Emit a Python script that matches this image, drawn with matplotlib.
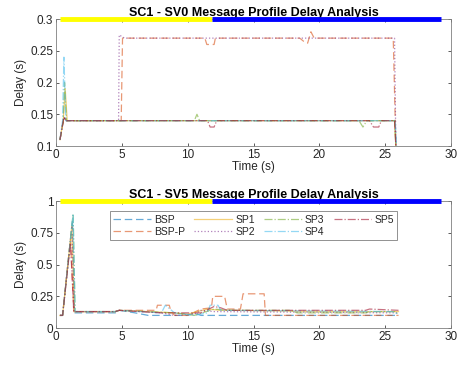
import matplotlib
matplotlib.use('Agg')
import matplotlib.pyplot as plt

plt.rcParams['font.family'] = ['Liberation Sans', 'DejaVu Sans']

names  = ['BSP', 'BSP-P', 'SP1', 'SP2', 'SP3', 'SP4', 'SP5']
colors = ['#0072BD', '#D95319', '#EDB120', '#7E2F8E', '#77AC30', '#4DBEEE', '#A2142F']
styles = [(0, (6, 3)), (0, (6, 3)), '-', ':', '-.', '-.', '-.']

# phase bar (yellow then blue) along the top of each axes
phase_t = [0.3, 11.85, 29.2]

# --- SC1 - SV0 ---
sv0_t = {
    'BSP':   [0.3, 0.6, 0.8, 25.75, 25.8],
    'BSP-P': [0.3, 0.6, 0.8, 4.95, 5.05, 11.3, 11.45, 12.0, 12.1, 18.5, 18.8, 19.1, 19.35, 19.6, 25.6, 25.8],
    'SP1':   [0.3, 0.55, 0.7, 0.85, 25.7, 25.8],
    'SP2':   [0.3, 0.6, 0.8, 4.75, 4.8, 5.2, 25.7, 25.8],
    'SP3':   [0.3, 0.55, 0.65, 0.8, 10.5, 10.7, 10.9, 23.0, 23.3, 23.6, 25.7, 25.8],
    'SP4':   [0.3, 0.5, 0.6, 0.75, 25.75, 25.85],
    'SP5':   [0.3, 0.6, 0.8, 11.5, 11.7, 12.0, 12.2, 23.8, 24.1, 24.5, 24.7, 25.7, 25.8],
}
sv0_d = {
    'BSP':   [0.11, 0.145, 0.14, 0.14, 0.10],
    'BSP-P': [0.11, 0.145, 0.14, 0.14, 0.27, 0.27, 0.26, 0.26, 0.27, 0.27, 0.265, 0.262, 0.28, 0.27, 0.27, 0.10],
    'SP1':   [0.11, 0.14, 0.19, 0.14, 0.14, 0.10],
    'SP2':   [0.11, 0.145, 0.14, 0.14, 0.275, 0.27, 0.27, 0.10],
    'SP3':   [0.11, 0.14, 0.20, 0.14, 0.14, 0.15, 0.14, 0.14, 0.13, 0.14, 0.14, 0.10],
    'SP4':   [0.11, 0.14, 0.24, 0.14, 0.14, 0.10],
    'SP5':   [0.11, 0.145, 0.14, 0.14, 0.13, 0.13, 0.14, 0.14, 0.13, 0.13, 0.14, 0.14, 0.10],
}

# --- SC1 - SV5 ---
sv5_t = {
    'BSP':   [0.3, 0.5, 1.25, 1.4, 4.5, 4.8, 6.0, 7.0, 10.0, 10.5, 11.0, 26.0],
    'BSP-P': [0.3, 0.5, 1.1, 1.35, 4.5, 4.8, 7.6, 7.7, 8.6, 8.7, 9.0, 10.0, 11.0, 11.8, 11.9, 12.8, 13.0, 14.0, 14.2, 15.8, 15.9, 26.0],
    'SP1':   [0.3, 0.5, 1.2, 1.4, 4.5, 4.8, 9.0, 10.0, 11.5, 12.5, 13.5, 20.0, 26.0],
    'SP2':   [0.3, 0.5, 1.2, 1.4, 4.5, 4.8, 8.0, 9.0, 10.5, 11.0, 12.0, 26.0],
    'SP3':   [0.3, 0.5, 1.3, 1.45, 4.5, 4.8, 9.0, 10.5, 12.0, 13.0, 17.8, 18.3, 23.5, 23.8, 25.8, 26.0],
    'SP4':   [0.3, 0.5, 1.3, 1.45, 4.5, 4.8, 8.0, 8.3, 9.0, 10.5, 11.5, 11.7, 12.3, 12.5, 25.5, 26.0],
    'SP5':   [0.3, 0.5, 1.1, 1.35, 4.5, 4.8, 8.0, 11.0, 12.0, 12.5, 13.0, 23.5, 23.8, 26.0],
}
sv5_d = {
    'BSP':   [0.1, 0.1, 0.85, 0.12, 0.12, 0.14, 0.12, 0.10, 0.10, 0.12, 0.10, 0.10],
    'BSP-P': [0.1, 0.1, 0.70, 0.13, 0.13, 0.14, 0.14, 0.18, 0.18, 0.14, 0.10, 0.10, 0.15, 0.16, 0.25, 0.25, 0.15, 0.15, 0.27, 0.27, 0.10, 0.10],
    'SP1':   [0.1, 0.1, 0.80, 0.13, 0.13, 0.14, 0.12, 0.11, 0.15, 0.14, 0.14, 0.13, 0.13],
    'SP2':   [0.1, 0.1, 0.80, 0.13, 0.13, 0.14, 0.12, 0.10, 0.11, 0.14, 0.13, 0.12],
    'SP3':   [0.1, 0.1, 0.90, 0.13, 0.13, 0.14, 0.12, 0.10, 0.15, 0.14, 0.14, 0.12, 0.12, 0.13, 0.13, 0.10],
    'SP4':   [0.1, 0.1, 0.90, 0.13, 0.13, 0.14, 0.12, 0.18, 0.12, 0.10, 0.12, 0.18, 0.18, 0.14, 0.13, 0.11],
    'SP5':   [0.1, 0.1, 0.67, 0.13, 0.13, 0.14, 0.12, 0.12, 0.17, 0.16, 0.14, 0.14, 0.15, 0.14],
}

panels = [
    ('SC1 - SV0 Message Profile Delay Analysis', sv0_t, sv0_d,
     (0.1, 0.3), [0.1, 0.15, 0.2, 0.25, 0.3], ['0.1', '0.15', '0.2', '0.25', '0.3']),
    ('SC1 - SV5 Message Profile Delay Analysis', sv5_t, sv5_d,
     (0, 1), [0, 0.25, 0.5, 0.75, 1], ['0', '0.25', '0.5', '0.75', '1']),
]

fig = plt.figure(figsize=(4.59, 3.67), dpi=100)
rects = [[0.122, 0.602, 0.861, 0.346], [0.122, 0.106, 0.861, 0.346]]
grey = '#262626'

for rect, (title, tt, dd, ylim, yt, ytl) in zip(rects, panels):
    ax = fig.add_axes(rect)
    for n, c, s in zip(names, colors, styles):
        ax.plot(tt[n], dd[n], color=c, linestyle=s, linewidth=0.9, alpha=0.6, label=n)
    top = ylim[1]
    ax.plot(phase_t[:2], [top, top], color='#FFFF00', linewidth=3.5,
            solid_capstyle='butt', clip_on=False, zorder=5)
    ax.plot(phase_t[1:], [top, top], color='#0000FF', linewidth=3.5,
            solid_capstyle='butt', clip_on=False, zorder=5)
    ax.set_xlim(0, 30)
    ax.set_ylim(*ylim)
    ax.set_xticks([0, 5, 10, 15, 20, 25, 30])
    ax.set_yticks(yt)
    ax.set_yticklabels(ytl)
    ax.tick_params(direction='in', top=True, right=True, length=2.5, width=0.6,
                   labelsize=8.5, colors='#404040', labelcolor=grey, pad=2)
    for sp in ax.spines.values():
        sp.set_color('#808080')
        sp.set_linewidth(0.6)
    ax.set_xlabel('Time (s)', fontsize=8.5, color=grey, labelpad=0)
    ax.set_ylabel('Delay (s)', fontsize=8.5, color=grey, labelpad=2)
    ax.set_title(title, fontsize=9, fontweight='bold', color='black', pad=2)
    if 'SV5' in title:
        leg = ax.legend(ncol=4, loc='upper center', bbox_to_anchor=(0.5, 0.96),
                        fontsize=7.5, frameon=True, fancybox=False, handlelength=3.6,
                        columnspacing=0.9, handletextpad=0.3, borderpad=0.3,
                        labelspacing=0.2)
        leg.get_frame().set_edgecolor('#606060')
        leg.get_frame().set_linewidth(0.6)
        for txt in leg.get_texts():
            txt.set_color(grey)

fig.savefig('out.png', dpi=100)
